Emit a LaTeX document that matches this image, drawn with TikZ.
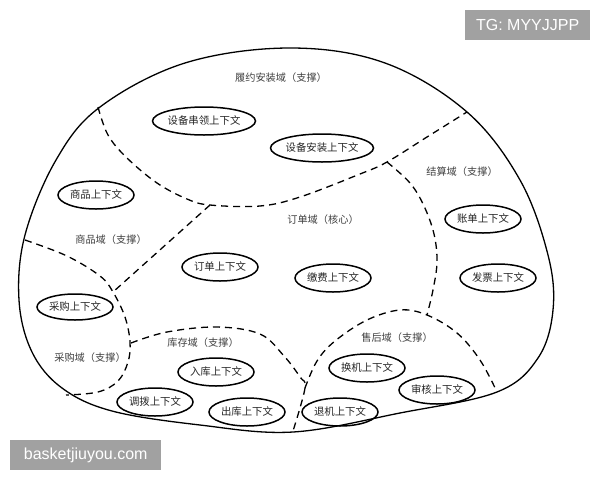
\documentclass[tikz,border=0pt]{standalone}
\usepackage{fontspec}
\newfontfamily\cjk{Noto Sans CJK SC}
\newfontfamily\wmfont{Liberation Sans}
\usetikzlibrary{shapes.geometric}
\tikzset{
  ctx/.style={ellipse, draw, line width=1.5pt, minimum width=76pt, minimum height=28pt, inner sep=0pt, font=\cjk\fontsize{10.4}{12}\selectfont, text=black!85},
  wide/.style={minimum width=98pt},
  dom/.style={inner sep=0pt, font=\cjk\fontsize{10.2}{12}\selectfont, text=black!75},
  outline/.style={line width=1.3pt},
  border/.style={line width=1.3pt, dash pattern=on 7pt off 5pt},
  wm/.style={fill=black!37, text=white, font=\wmfont\fontsize{16}{18}\selectfont, inner sep=0pt, anchor=north west}
}
\begin{document}
\begin{tikzpicture}[x=1pt,y=-1pt]
\useasboundingbox[fill=white] (0,0) rectangle (600,480);
% outer blob
\draw[outline] plot[smooth cycle, tension=0.6] coordinates {
 (290,48) (385,63) (467,112) (520,180) (548,255) (553,310) (538,358) (497,392)
 (400,413) (293,432) (200,425) (112,411) (62,388) (32,352) (19,300) (25,235) (56,160) (100,107) (185,63)};
% top boundary (fulfilment)
\draw[border] plot[smooth, tension=0.6] coordinates {
 (98,107) (108,135) (127,158) (157,183) (187,199) (210,205) (260,206) (300,197) (360,174) (387,162) (427,137) (467,112)};
% goods / order
\draw[border] (210,205) -- (113,292);
% purchase boundary
\draw[border] plot[smooth, tension=0.6] coordinates {
 (25,240) (67,256) (100,276) (113,292) (125,317) (130,342) (128,362) (118,381) (98,392) (66,395)};
% settlement boundary
\draw[border] plot[smooth, tension=0.6] coordinates {
 (387,162) (410,183) (424,206) (434,234) (437,262) (433,290) (427,315)};
% after-sales dome
\draw[border] plot[smooth, tension=0.6] coordinates {
 (305,388) (317,361) (335,341) (367,320) (400,310) (427,315) (457,333) (480,360) (497,392)};
% inventory dome
\draw[border] plot[smooth, tension=0.6] coordinates {
 (131,343) (167,332) (217,327) (260,334) (284,356) (300,377) (305,388) (293,431)};
% labels
\node[dom] (l1) at (281,78) {履约安装域（支撑）};
\node[dom] (l2) at (111,240) {商品域（支撑）};
\node[dom] (l3) at (323,220) {订单域（核心）};
\node[dom] (l4) at (462,172) {结算域（支撑）};
\node[dom] (l5) at (90,358) {采购域（支撑）};
\node[dom] (l6) at (203,343) {库存域（支撑）};
\node[dom] (l7) at (397,338) {售后域（支撑）};
% contexts
\node[ctx,wide] (c1) at (204,121) {设备串领上下文};
\node[ctx,wide] (c2) at (322,148) {设备安装上下文};
\node[ctx] (c3) at (96,195) {商品上下文};
\node[ctx] (c4) at (220,267) {订单上下文};
\node[ctx] (c5) at (333,278) {缴费上下文};
\node[ctx] (c6) at (483,219) {账单上下文};
\node[ctx] (c7) at (498,278) {发票上下文};
\node[ctx,minimum height=26pt] (c8) at (75,307) {采购上下文};
\node[ctx] (c9) at (216,372) {入库上下文};
\node[ctx] (c10) at (155,402) {调拨上下文};
\node[ctx] (c11) at (247,412) {出库上下文};
\node[ctx] (c12) at (367,368) {换机上下文};
\node[ctx] (c13) at (437,390) {审核上下文};
\node[ctx] (c14) at (340,412) {退机上下文};
% watermarks
\node[wm, minimum width=125pt, minimum height=30pt] (w1) at (465,10) {};
\node[text=white, font=\wmfont\fontsize{16}{18}\selectfont] (w1t) at (w1.center) {TG: MYYJJPP};
\node[wm, minimum width=151pt, minimum height=30pt] (w2) at (10,440) {};
\node[text=white, font=\wmfont\fontsize{16}{18}\selectfont] (w2t) at (w2.center) {basketjiuyou.com};
\end{tikzpicture}
\end{document}
